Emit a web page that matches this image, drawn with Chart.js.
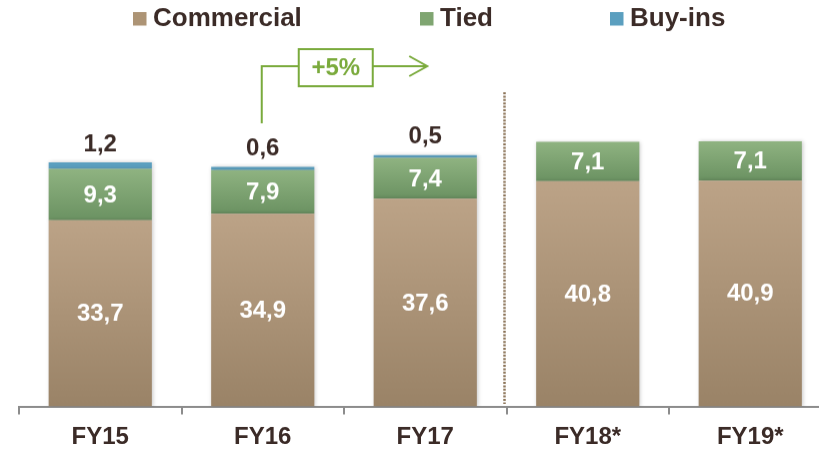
<!DOCTYPE html>
<html>
<head>
<meta charset="utf-8">
<script src="https://cdn.jsdelivr.net/npm/chart.js@4.4.1/dist/chart.umd.min.js"></script>
<style>
  html, body { margin: 0; padding: 0; background: #fff; overflow: hidden; }
  #wrap { position: relative; width: 840px; height: 458.5px; }
</style>
</head>
<body>
<div id="wrap"><canvas id="salesChart"></canvas></div>
<script>
const years = ['FY15', 'FY16', 'FY17', 'FY18*', 'FY19*'];
const commercial = [33.7, 34.9, 37.6, 40.8, 40.9];
const tied = [9.3, 7.9, 7.4, 7.1, 7.1];
const buyIns = [1.2, 0.6, 0.5, null, null];
const growthLabel = '+5%';

const darkText = '#3b2b27';
const arrowGreen = '#7aaa3c';
const font = 'Liberation Sans, Arial, sans-serif';

// vertical gradient per stacked segment
function segGradient(top, bottom) {
  return function (c) {
    const chart = c.chart;
    const y = chart.scales && chart.scales.y;
    if (!chart.chartArea || !y || c.type !== 'data') return bottom;
    let base = 0;
    for (let d = 0; d < c.datasetIndex; d++) {
      base += chart.data.datasets[d].data[c.dataIndex] || 0;
    }
    const y0 = y.getPixelForValue(base + (c.raw || 0));
    const y1 = y.getPixelForValue(base);
    if (!(y1 - y0 > 0)) return bottom;
    const g = chart.ctx.createLinearGradient(0, y0, 0, y1);
    g.addColorStop(0, top);
    g.addColorStop(1, bottom);
    return g;
  };
}

const fmt = v => v.toFixed(1).replace('.', ',');

const barShadow = {
  id: 'barShadow',
  beforeDatasetsDraw(chart) {
    const ctx = chart.ctx;
    ctx.save();
    ctx.shadowColor = 'rgba(0,0,0,0.22)';
    ctx.shadowBlur = 4;
    ctx.shadowOffsetX = 1;
  },
  afterDatasetsDraw(chart) {
    chart.ctx.restore();
  }
};

const valueLabels = {
  id: 'valueLabels',
  afterDatasetsDraw(chart) {
    const ctx = chart.ctx;
    ctx.save();
    ctx.font = 'bold 24px ' + font;
    ctx.textAlign = 'center';
    ctx.textBaseline = 'middle';
    chart.data.datasets.forEach((ds, i) => {
      const meta = chart.getDatasetMeta(i);
      meta.data.forEach((bar, j) => {
        const v = ds.data[j];
        if (v == null) return;
        if (i < 2) {
          ctx.fillStyle = '#ffffff';
          ctx.fillText(fmt(v), bar.x, (bar.y + bar.base) / 2 + 1);
        } else {
          ctx.fillStyle = darkText;
          ctx.fillText(fmt(v), bar.x, bar.y - 18);
        }
      });
    });
    ctx.restore();
  }
};

const extras = {
  id: 'extras',
  afterDraw(chart) {
    const ctx = chart.ctx;
    const x = chart.scales.x;
    ctx.save();

    // legend
    const items = [
      { text: 'Commercial', color: '#ad9475', left: 133 },
      { text: 'Tied', color: '#7fa571', left: 420 },
      { text: 'Buy-ins', color: '#5b9fbf', left: 610 }
    ];
    ctx.font = 'bold 26px ' + font;
    ctx.textBaseline = 'middle';
    ctx.textAlign = 'left';
    items.forEach(it => {
      ctx.fillStyle = it.color;
      ctx.fillRect(it.left, 12, 13.5, 13.5);
      ctx.fillStyle = darkText;
      ctx.fillText(it.text, it.left + 20, 19);
    });

    // dotted separator between actuals and forecast
    const sepX = (x.getPixelForValue(2) + x.getPixelForValue(3)) / 2 - 2;
    ctx.strokeStyle = '#8b7357';
    ctx.lineWidth = 2.5;
    ctx.setLineDash([2, 1.4]);
    ctx.beginPath();
    ctx.moveTo(sepX, 92);
    ctx.lineTo(sepX, 403);
    ctx.stroke();
    ctx.setLineDash([]);

    // growth arrow FY16 -> FY17
    const x1 = x.getPixelForValue(1) - 1;
    const x2 = x.getPixelForValue(2) + 2;
    const boxL = x1 + 37, boxR = x1 + 111, lineY = 66;
    ctx.strokeStyle = arrowGreen;
    ctx.lineWidth = 2;
    ctx.beginPath();
    ctx.moveTo(x1, 123);
    ctx.lineTo(x1, lineY);
    ctx.lineTo(boxL, lineY);
    ctx.moveTo(boxR, lineY);
    ctx.lineTo(x2, lineY);
    ctx.moveTo(x2 - 18, lineY - 10);
    ctx.lineTo(x2, lineY);
    ctx.lineTo(x2 - 18, lineY + 10);
    ctx.stroke();
    ctx.strokeRect(boxL, 49, boxR - boxL, 37);
    ctx.fillStyle = arrowGreen;
    ctx.font = 'bold 24px ' + font;
    ctx.textAlign = 'center';
    ctx.fillText(growthLabel, (boxL + boxR) / 2, 68);

    ctx.restore();
  }
};

new Chart(document.getElementById('salesChart'), {
  type: 'bar',
  data: {
    labels: years,
    datasets: [
      { label: 'Commercial', data: commercial, backgroundColor: segGradient('#bca387', '#9a8367') },
      { label: 'Tied', data: tied, backgroundColor: segGradient('#8fb381', '#6b9262') },
      { label: 'Buy-ins', data: buyIns, backgroundColor: '#5b9fbf' }
    ]
  },
  options: {
    responsive: true,
    maintainAspectRatio: false,
    animation: false,
    layout: { padding: { left: 19, right: 8.5, top: 47.4, bottom: 0 } },
    datasets: { bar: { categoryPercentage: 1, barPercentage: 0.635 } },
    plugins: { legend: { display: false }, tooltip: { enabled: false } },
    scales: {
      x: {
        stacked: true,
        border: { display: true, color: '#8c8c8c', width: 2 },
        grid: { display: true, offset: true, drawOnChartArea: false, drawTicks: true, tickLength: 8, color: '#8c8c8c', lineWidth: 2 },
        ticks: { color: darkText, font: { family: font, size: 24, weight: 'bold' }, padding: 8.1 }
      },
      y: { stacked: true, display: false, min: 0, max: 65 }
    }
  },
  plugins: [barShadow, valueLabels, extras]
});
</script>
</body>
</html>
